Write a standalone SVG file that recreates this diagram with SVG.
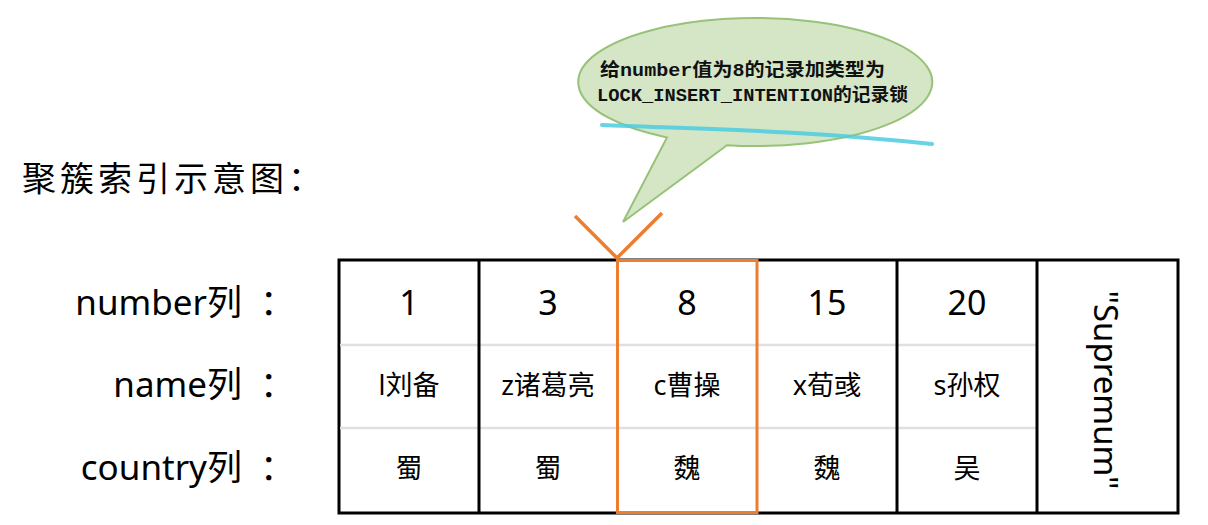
<svg xmlns="http://www.w3.org/2000/svg" width="1208" height="525" viewBox="0 0 1208 525">
<style>
.t{font-family:"Noto Sans","Noto Sans CJK SC",sans-serif;fill:#000}
.num{font-size:34px;text-anchor:middle}
.nm{font-size:27px;text-anchor:middle}
.lbl{font-size:35px;text-anchor:end}
.bub{font-family:"Liberation Mono","Noto Sans CJK SC",monospace;font-size:18px;font-weight:bold;fill:#111}
.cell{fill:#fff;stroke:#000;stroke-width:3}
.row{stroke:#e0e0e0;stroke-width:2.5}
</style>
<rect width="1208" height="525" fill="#fff"/>
<g id="title"><text class="t" x="22" y="191" font-size="34" letter-spacing="4">聚簇索引示意图：</text></g>
<g id="labels">
<text class="t lbl" x="295" y="315">number列<tspan dx="18">：</tspan></text>
<text class="t lbl" x="295" y="397">name列<tspan dx="18">：</tspan></text>
<text class="t lbl" x="295" y="480">country列<tspan dx="18">：</tspan></text>
</g>
<g id="table">
<rect class="cell" x="339" y="260" width="839" height="253"/>
<g class="row">
<line x1="340" y1="345" x2="1037" y2="345"/>
<line x1="340" y1="428" x2="1037" y2="428"/>
</g>
<g stroke="#000" stroke-width="3">
<line x1="479" y1="260" x2="479" y2="513"/>
<line x1="897" y1="260" x2="897" y2="513"/>
<line x1="1037" y1="260" x2="1037" y2="513"/>
</g>
</g>
<g id="col1"><text class="t num" x="409" y="315">1</text><text class="t nm" x="409" y="395">l刘备</text><text class="t nm" x="409" y="478">蜀</text></g>
<g id="col3"><text class="t num" x="548" y="315">3</text><text class="t nm" x="548" y="395">z诸葛亮</text><text class="t nm" x="548" y="478">蜀</text></g>
<g id="col8"><text class="t num" x="687" y="315">8</text><text class="t nm" x="687" y="395">c曹操</text><text class="t nm" x="687" y="478">魏</text></g>
<g id="col15"><text class="t num" x="827" y="315">15</text><text class="t nm" x="827" y="395">x荀彧</text><text class="t nm" x="827" y="478">魏</text></g>
<g id="col20"><text class="t num" x="967" y="315">20</text><text class="t nm" x="967" y="395">s孙权</text><text class="t nm" x="967" y="478">吴</text></g>
<g id="supremum"><text class="t" font-size="33" text-anchor="middle" transform="translate(1094 390) rotate(90)">"Supremum"</text></g>
<g id="highlight"><rect x="617.5" y="260.5" width="139.5" height="252" fill="none" stroke="#ED7D31" stroke-width="3"/></g>
<g id="bubble">
<path d="M727 145.2 A177 64 0 1 0 667 137.5 L623 222 Z" fill="#D4E6C6" stroke="#97C278" stroke-width="2"/>
<text class="bub" x="600" y="76" textLength="285" lengthAdjust="spacingAndGlyphs">给number值为8的记录加类型为</text>
<text class="bub" x="597" y="101" textLength="311" lengthAdjust="spacingAndGlyphs">LOCK_INSERT_INTENTION的记录锁</text>
</g>
<g id="connectors">
<path d="M602 125 C700 129 800 130 932 144" fill="none" stroke="#4CCBE0" stroke-opacity="0.85" stroke-width="4" stroke-linecap="round"/>
<polyline points="575,216 617,258 662,213" fill="none" stroke="#ED7D31" stroke-width="3.5"/>
</g>
</svg>
